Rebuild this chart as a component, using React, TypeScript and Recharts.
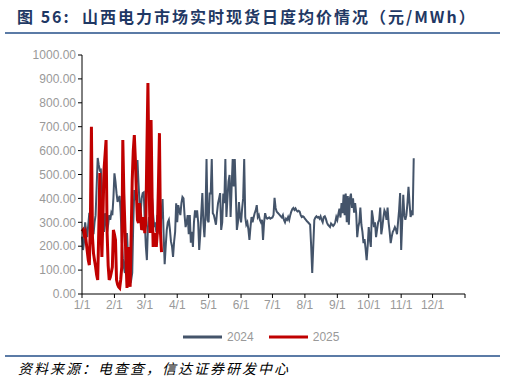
import { LineChart, Line, XAxis, YAxis } from "recharts";

// day index 0 = 1/1, 2024 is a leap year so the axis runs to 366
const monthTicks = [0, 31, 60, 91, 121, 152, 182, 213, 244, 274, 305, 335, 366];
const monthLabels = ["1/1", "2/1", "3/1", "4/1", "5/1", "6/1", "7/1", "8/1", "9/1", "10/1", "11/1", "12/1", ""];
const yTicks = [0, 100, 200, 300, 400, 500, 600, 700, 800, 900, 1000];

// 元/MWh, one value per day from 1/1
const price2024 = [
  240, 184, 220, 300, 260, 238, 290, 340, 280, 250,
  270, 250, 300, 330, 450, 569, 540, 518, 520, 448,
  300, 260, 338, 300, 260, 290, 330, 310, 340, 330,
  400, 505, 470, 422, 385, 400, 410, 338, 226, 150,
  113, 88, 226, 255, 150, 88, 70, 59, 88, 300,
  435, 393, 470, 560, 464, 380, 338, 400, 422, 425,
  300, 200, 142, 280, 322, 300, 364, 400, 330, 280,
  300, 260, 330, 290, 250, 280, 340, 397, 250, 125,
  200, 268, 300, 310, 270, 220, 200, 155, 218, 260,
  380, 300, 372, 350, 330, 380, 406, 400, 330, 280,
  300, 330, 250, 330, 215, 260, 197, 300, 350, 320,
  350, 300, 184, 250, 340, 422, 300, 238, 330, 565,
  310, 300, 420, 420, 565, 338, 330, 310, 290, 340,
  380, 400, 422, 268, 300, 420, 380, 565, 322, 400,
  470, 498, 322, 450, 565, 450, 565, 420, 268, 300,
  385, 322, 300, 357, 400, 565, 322, 290, 300, 270,
  226, 280, 322, 300, 320, 338, 350, 372, 322, 330,
  310, 300, 310, 226, 300, 338, 320, 315, 318, 320,
  315, 318, 320, 330, 402, 360, 345, 340, 335, 330,
  325, 320, 330, 310, 300, 315, 310, 322, 310, 330,
  345, 355, 360, 352, 358, 350, 345, 348, 345, 330,
  322, 325, 322, 315, 310, 304, 300, 295, 290, 200,
  88, 200, 310, 320, 325, 320, 322, 315, 325, 310,
  300, 322, 325, 315, 300, 290, 285, 280, 295, 290,
  285, 290, 300, 322, 310, 335, 357, 320, 380, 338,
  416, 330, 420, 300, 410, 290, 400, 420, 360, 400,
  340, 380, 340, 238, 280, 300, 362, 290, 260, 213,
  230, 190, 142, 200, 280, 230, 197, 350, 320, 280,
  300, 238, 270, 300, 310, 362, 250, 280, 320, 350,
  340, 310, 362, 300, 260, 213, 240, 260, 268, 280,
  270, 250, 300, 350, 422, 184, 300, 415, 330, 310,
  330, 380, 448, 380, 322, 340, 330, 568,
];

const price2025 = [
  262, 268, 250, 260, 218, 180, 142, 121, 300, 700,
  238, 170, 140, 113, 80, 59, 260, 506, 300, 155,
  320, 518, 580, 644, 255, 120, 59, 70, 90, 113,
  268, 250, 226, 59, 40, 30, 25, 60, 113, 644,
  420, 280, 150, 25, 197, 113, 30, 250, 477, 600,
  665, 560, 420, 310, 297, 380, 330, 268, 280, 322,
  255, 300, 600, 883, 500, 255, 728, 400, 197, 255,
  230, 197, 260, 450, 673, 255, 175,
];

const seriesNames = ["2024", "2025"];
const seriesColors = ["#44546A", "#C00000"];

const data = Array.from({ length: 367 }, (_, i) => ({
  day: i,
  y2024: price2024[i] ?? null,
  y2025: price2025[i] ?? null,
}));

const cjk = "'Noto Sans CJK SC', 'Noto Sans', sans-serif";
const axisText = { fill: "#999999", fontSize: 12, fontFamily: "'Liberation Sans', Arial, sans-serif" };

export default function App() {
  return (
    <div style={{ position: "absolute", left: 0, top: 0, width: 505, height: 380, background: "#fff", overflow: "hidden" }}>
      <div style={{
        position: "absolute", left: 17, top: 4, fontFamily: cjk, fontWeight: 700,
        fontSize: 16, letterSpacing: 2, color: "#1F3864", whiteSpace: "nowrap",
      }}>
        图 56:&nbsp;&nbsp;山西电力市场实时现货日度均价情况（元/MWh）
      </div>
      <div style={{ position: "absolute", left: 5, top: 32, width: 495, height: 2, background: "#5B7BA6" }} />

      <LineChart width={505} height={380} data={data} margin={{ top: 55, right: 40, bottom: 66, left: 22 }}>
        <XAxis
          dataKey="day" type="number" domain={[0, 366]} ticks={monthTicks}
          tickFormatter={(v: number) => monthLabels[monthTicks.indexOf(v)] ?? ""}
          tick={axisText} axisLine={{ stroke: "#000" }} tickLine={{ stroke: "#000" }}
          tickSize={4} height={20} interval={0}
        />
        <YAxis
          domain={[0, 1000]} ticks={yTicks} tickFormatter={(v: number) => v.toFixed(2)}
          tick={axisText} axisLine={{ stroke: "#000" }} tickLine={{ stroke: "#000" }}
          tickSize={4} width={60} interval={0}
        />
        <Line type="linear" dataKey="y2024" stroke={seriesColors[0]} strokeWidth={2} dot={false} isAnimationActive={false} />
        <Line type="linear" dataKey="y2025" stroke={seriesColors[1]} strokeWidth={3} dot={false} isAnimationActive={false} />
      </LineChart>

      <div style={{ position: "absolute", top: 330, left: 183, display: "flex", alignItems: "center", ...{ fontFamily: "'Liberation Sans', Arial, sans-serif", fontSize: 12, color: "#999" } }}>
        {seriesNames.map((name, i) => (
          <div key={name} style={{ display: "flex", alignItems: "center", marginRight: 15 }}>
            <svg width={39} height={4} style={{ marginRight: 5 }}>
              <line x1={0} y1={2} x2={39} y2={2} stroke={seriesColors[i]} strokeWidth={3} />
            </svg>
            <span>{name}</span>
          </div>
        ))}
      </div>

      <div style={{ position: "absolute", left: 5, top: 355, width: 495, height: 2, background: "#5B7BA6" }} />
      <div style={{
        position: "absolute", left: 18, top: 358, fontFamily: cjk, fontStyle: "italic",
        fontSize: 14, letterSpacing: 2, color: "#000", whiteSpace: "nowrap",
      }}>
        资料来源：电查查，信达证券研发中心
      </div>
    </div>
  );
}
